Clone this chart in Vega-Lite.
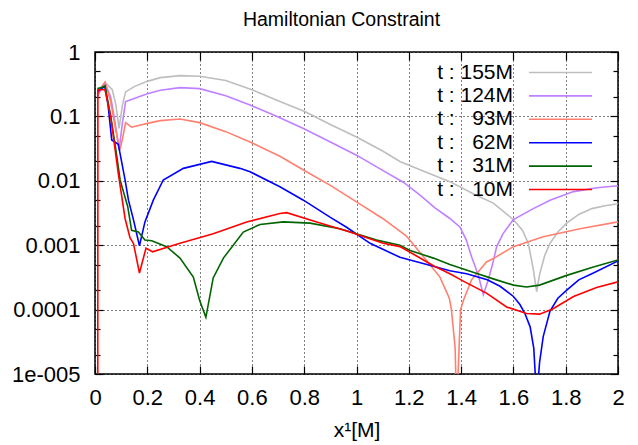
{
  "$schema": "https://vega.github.io/schema/vega-lite/v6.json",
  "width": 523,
  "height": 322,
  "autosize": {"type": "none"},
  "padding": {"left": 95, "top": 52, "right": 20, "bottom": 71},
  "background": "white",
  "title": {"text": "Hamiltonian Constraint", "fontSize": 19.5, "font": "Liberation Sans", "fontWeight": "normal", "color": "black", "dx": -15, "offset": 11},
  "datasets": {
    "curves": [
      {"s":"t : 155M","x":0.009,"y":0.22},{"s":"t : 155M","x":0.025,"y":0.29},{"s":"t : 155M","x":0.038,"y":0.34},{"s":"t : 155M","x":0.066,"y":0.26},{"s":"t : 155M","x":0.08,"y":0.15},{"s":"t : 155M","x":0.092,"y":0.065},{"s":"t : 155M","x":0.105,"y":0.15},{"s":"t : 155M","x":0.117,"y":0.24},{"s":"t : 155M","x":0.15,"y":0.29},{"s":"t : 155M","x":0.2,"y":0.35},{"s":"t : 155M","x":0.25,"y":0.4},{"s":"t : 155M","x":0.325,"y":0.43},{"s":"t : 155M","x":0.4,"y":0.42},{"s":"t : 155M","x":0.5,"y":0.36},{"s":"t : 155M","x":0.6,"y":0.26},{"s":"t : 155M","x":0.707,"y":0.17},{"s":"t : 155M","x":0.8,"y":0.12},{"s":"t : 155M","x":0.9,"y":0.075},{"s":"t : 155M","x":1.0,"y":0.048},{"s":"t : 155M","x":1.1,"y":0.029},{"s":"t : 155M","x":1.166,"y":0.02},{"s":"t : 155M","x":1.25,"y":0.0145},{"s":"t : 155M","x":1.357,"y":0.0097},{"s":"t : 155M","x":1.45,"y":0.0062},{"s":"t : 155M","x":1.523,"y":0.0045},{"s":"t : 155M","x":1.6,"y":0.0025},{"s":"t : 155M","x":1.635,"y":0.0017},{"s":"t : 155M","x":1.657,"y":0.00107},{"s":"t : 155M","x":1.675,"y":0.00045},{"s":"t : 155M","x":1.689,"y":0.00019},{"s":"t : 155M","x":1.7,"y":0.00035},{"s":"t : 155M","x":1.72,"y":0.0007},{"s":"t : 155M","x":1.74,"y":0.00107},{"s":"t : 155M","x":1.77,"y":0.0016},{"s":"t : 155M","x":1.804,"y":0.0022},{"s":"t : 155M","x":1.85,"y":0.003},{"s":"t : 155M","x":1.9,"y":0.0037},{"s":"t : 155M","x":1.95,"y":0.0041},{"s":"t : 155M","x":2.0,"y":0.0044},

      {"s":"t : 124M","x":0.009,"y":0.2},{"s":"t : 124M","x":0.025,"y":0.28},{"s":"t : 124M","x":0.038,"y":0.33},{"s":"t : 124M","x":0.06,"y":0.2},{"s":"t : 124M","x":0.075,"y":0.09},{"s":"t : 124M","x":0.092,"y":0.03},{"s":"t : 124M","x":0.105,"y":0.08},{"s":"t : 124M","x":0.117,"y":0.17},{"s":"t : 124M","x":0.15,"y":0.19},{"s":"t : 124M","x":0.2,"y":0.225},{"s":"t : 124M","x":0.25,"y":0.255},{"s":"t : 124M","x":0.325,"y":0.28},{"s":"t : 124M","x":0.4,"y":0.27},{"s":"t : 124M","x":0.5,"y":0.21},{"s":"t : 124M","x":0.593,"y":0.15},{"s":"t : 124M","x":0.707,"y":0.095},{"s":"t : 124M","x":0.797,"y":0.065},{"s":"t : 124M","x":0.9,"y":0.04},{"s":"t : 124M","x":1.0,"y":0.025},{"s":"t : 124M","x":1.1,"y":0.0145},{"s":"t : 124M","x":1.179,"y":0.0095},{"s":"t : 124M","x":1.243,"y":0.006},{"s":"t : 124M","x":1.3,"y":0.0038},{"s":"t : 124M","x":1.357,"y":0.0026},{"s":"t : 124M","x":1.396,"y":0.0019},{"s":"t : 124M","x":1.42,"y":0.0012},{"s":"t : 124M","x":1.44,"y":0.00066},{"s":"t : 124M","x":1.465,"y":0.00035},{"s":"t : 124M","x":1.485,"y":0.00017},{"s":"t : 124M","x":1.504,"y":0.00029},{"s":"t : 124M","x":1.52,"y":0.0005},{"s":"t : 124M","x":1.536,"y":0.00095},{"s":"t : 124M","x":1.56,"y":0.0015},{"s":"t : 124M","x":1.6,"y":0.0025},{"s":"t : 124M","x":1.676,"y":0.0037},{"s":"t : 124M","x":1.74,"y":0.005},{"s":"t : 124M","x":1.83,"y":0.0068},{"s":"t : 124M","x":1.92,"y":0.0078},{"s":"t : 124M","x":2.0,"y":0.0084},

      {"s":"t : \u200793M","x":0.009,"y":0.22},{"s":"t : \u200793M","x":0.025,"y":0.28},{"s":"t : \u200793M","x":0.038,"y":0.34},{"s":"t : \u200793M","x":0.06,"y":0.17},{"s":"t : \u200793M","x":0.08,"y":0.06},{"s":"t : \u200793M","x":0.095,"y":0.03},{"s":"t : \u200793M","x":0.105,"y":0.045},{"s":"t : \u200793M","x":0.117,"y":0.08},{"s":"t : \u200793M","x":0.14,"y":0.068},{"s":"t : \u200793M","x":0.2,"y":0.078},{"s":"t : \u200793M","x":0.25,"y":0.086},{"s":"t : \u200793M","x":0.325,"y":0.091},{"s":"t : \u200793M","x":0.4,"y":0.08},{"s":"t : \u200793M","x":0.5,"y":0.058},{"s":"t : \u200793M","x":0.593,"y":0.04},{"s":"t : \u200793M","x":0.707,"y":0.024},{"s":"t : \u200793M","x":0.797,"y":0.0147},{"s":"t : \u200793M","x":0.9,"y":0.0085},{"s":"t : \u200793M","x":1.0,"y":0.0047},{"s":"t : \u200793M","x":1.1,"y":0.0026},{"s":"t : \u200793M","x":1.19,"y":0.0014},{"s":"t : \u200793M","x":1.268,"y":0.00058},{"s":"t : \u200793M","x":1.319,"y":0.00032},{"s":"t : \u200793M","x":1.355,"y":0.00015},{"s":"t : \u200793M","x":1.363,"y":0.0001},{"s":"t : \u200793M","x":1.377,"y":0.000026},{"s":"t : \u200793M","x":1.383,"y":0.000003},{"s":"t : \u200793M","x":1.39,"y":0.000015},{"s":"t : \u200793M","x":1.398,"y":0.0001},{"s":"t : \u200793M","x":1.409,"y":0.00014},{"s":"t : \u200793M","x":1.44,"y":0.00029},{"s":"t : \u200793M","x":1.497,"y":0.00055},{"s":"t : \u200793M","x":1.523,"y":0.00062},{"s":"t : \u200793M","x":1.6,"y":0.00095},{"s":"t : \u200793M","x":1.714,"y":0.00135},{"s":"t : \u200793M","x":1.855,"y":0.0018},{"s":"t : \u200793M","x":2.0,"y":0.0023},

      {"s":"t : \u200762M","x":0.009,"y":0.24},{"s":"t : \u200762M","x":0.025,"y":0.27},{"s":"t : \u200762M","x":0.038,"y":0.29},{"s":"t : \u200762M","x":0.05,"y":0.15},{"s":"t : \u200762M","x":0.064,"y":0.043},{"s":"t : \u200762M","x":0.089,"y":0.037},{"s":"t : \u200762M","x":0.115,"y":0.0103},{"s":"t : \u200762M","x":0.128,"y":0.005},{"s":"t : \u200762M","x":0.147,"y":0.0025},{"s":"t : \u200762M","x":0.17,"y":0.00098},{"s":"t : \u200762M","x":0.191,"y":0.0023},{"s":"t : \u200762M","x":0.223,"y":0.005},{"s":"t : \u200762M","x":0.261,"y":0.0103},{"s":"t : \u200762M","x":0.338,"y":0.0156},{"s":"t : \u200762M","x":0.446,"y":0.02},{"s":"t : \u200762M","x":0.554,"y":0.0156},{"s":"t : \u200762M","x":0.593,"y":0.0138},{"s":"t : \u200762M","x":0.707,"y":0.0081},{"s":"t : \u200762M","x":0.797,"y":0.005},{"s":"t : \u200762M","x":0.9,"y":0.0027},{"s":"t : \u200762M","x":0.962,"y":0.0019},{"s":"t : \u200762M","x":1.052,"y":0.00107},{"s":"t : \u200762M","x":1.166,"y":0.00065},{"s":"t : \u200762M","x":1.294,"y":0.00047},{"s":"t : \u200762M","x":1.357,"y":0.0004},{"s":"t : \u200762M","x":1.421,"y":0.00036},{"s":"t : \u200762M","x":1.5,"y":0.00029},{"s":"t : \u200762M","x":1.549,"y":0.00023},{"s":"t : \u200762M","x":1.6,"y":0.00016},{"s":"t : \u200762M","x":1.625,"y":0.00012},{"s":"t : \u200762M","x":1.644,"y":0.000087},{"s":"t : \u200762M","x":1.664,"y":0.000054},{"s":"t : \u200762M","x":1.678,"y":0.000025},{"s":"t : \u200762M","x":1.689,"y":0.000004},{"s":"t : \u200762M","x":1.7,"y":0.000015},{"s":"t : \u200762M","x":1.714,"y":0.000038},{"s":"t : \u200762M","x":1.74,"y":0.000095},{"s":"t : \u200762M","x":1.77,"y":0.00015},{"s":"t : \u200762M","x":1.804,"y":0.0002},{"s":"t : \u200762M","x":1.85,"y":0.00029},{"s":"t : \u200762M","x":1.906,"y":0.00037},{"s":"t : \u200762M","x":2.0,"y":0.00057},

      {"s":"t : \u200731M","x":0.009,"y":0.27},{"s":"t : \u200731M","x":0.025,"y":0.28},{"s":"t : \u200731M","x":0.038,"y":0.3},{"s":"t : \u200731M","x":0.06,"y":0.1},{"s":"t : \u200731M","x":0.08,"y":0.03},{"s":"t : \u200731M","x":0.096,"y":0.0103},{"s":"t : \u200731M","x":0.11,"y":0.0065},{"s":"t : \u200731M","x":0.125,"y":0.004},{"s":"t : \u200731M","x":0.14,"y":0.0017},{"s":"t : \u200731M","x":0.166,"y":0.0016},{"s":"t : \u200731M","x":0.191,"y":0.0012},{"s":"t : \u200731M","x":0.217,"y":0.00117},{"s":"t : \u200731M","x":0.274,"y":0.00095},{"s":"t : \u200731M","x":0.325,"y":0.00063},{"s":"t : \u200731M","x":0.376,"y":0.00032},{"s":"t : \u200731M","x":0.4,"y":0.00014},{"s":"t : \u200731M","x":0.424,"y":0.000076},{"s":"t : \u200731M","x":0.452,"y":0.00031},{"s":"t : \u200731M","x":0.491,"y":0.00063},{"s":"t : \u200731M","x":0.567,"y":0.0016},{"s":"t : \u200731M","x":0.631,"y":0.0021},{"s":"t : \u200731M","x":0.72,"y":0.0023},{"s":"t : \u200731M","x":0.822,"y":0.0022},{"s":"t : \u200731M","x":0.937,"y":0.0018},{"s":"t : \u200731M","x":1.077,"y":0.0012},{"s":"t : \u200731M","x":1.166,"y":0.001},{"s":"t : \u200731M","x":1.205,"y":0.00083},{"s":"t : \u200731M","x":1.294,"y":0.00063},{"s":"t : \u200731M","x":1.357,"y":0.0005},{"s":"t : \u200731M","x":1.446,"y":0.00038},{"s":"t : \u200731M","x":1.523,"y":0.0003},{"s":"t : \u200731M","x":1.6,"y":0.00024},{"s":"t : \u200731M","x":1.65,"y":0.000224},{"s":"t : \u200731M","x":1.7,"y":0.00024},{"s":"t : \u200731M","x":1.804,"y":0.00034},{"s":"t : \u200731M","x":1.906,"y":0.00046},{"s":"t : \u200731M","x":2.0,"y":0.00059},

      {"s":"t : \u200710M","x":0.0105,"y":0.0000001},{"s":"t : \u200710M","x":0.011,"y":0.26},{"s":"t : \u200710M","x":0.038,"y":0.26},{"s":"t : \u200710M","x":0.06,"y":0.1},{"s":"t : \u200710M","x":0.089,"y":0.013},{"s":"t : \u200710M","x":0.115,"y":0.0026},{"s":"t : \u200710M","x":0.134,"y":0.0013},{"s":"t : \u200710M","x":0.147,"y":0.00107},{"s":"t : \u200710M","x":0.17,"y":0.00037},{"s":"t : \u200710M","x":0.195,"y":0.0009},{"s":"t : \u200710M","x":0.22,"y":0.00079},{"s":"t : \u200710M","x":0.325,"y":0.00107},{"s":"t : \u200710M","x":0.452,"y":0.0015},{"s":"t : \u200710M","x":0.58,"y":0.0023},{"s":"t : \u200710M","x":0.707,"y":0.0031},{"s":"t : \u200710M","x":0.733,"y":0.0032},{"s":"t : \u200710M","x":0.848,"y":0.0023},{"s":"t : \u200710M","x":0.975,"y":0.0016},{"s":"t : \u200710M","x":1.102,"y":0.00107},{"s":"t : \u200710M","x":1.166,"y":0.00095},{"s":"t : \u200710M","x":1.23,"y":0.00068},{"s":"t : \u200710M","x":1.294,"y":0.00048},{"s":"t : \u200710M","x":1.357,"y":0.00036},{"s":"t : \u200710M","x":1.421,"y":0.00026},{"s":"t : \u200710M","x":1.497,"y":0.00018},{"s":"t : \u200710M","x":1.574,"y":0.00011},{"s":"t : \u200710M","x":1.65,"y":0.000087},{"s":"t : \u200710M","x":1.7,"y":0.000085},{"s":"t : \u200710M","x":1.75,"y":0.000102},{"s":"t : \u200710M","x":1.83,"y":0.00016},{"s":"t : \u200710M","x":1.918,"y":0.00022},{"s":"t : \u200710M","x":2.0,"y":0.00027}
    ]
  },
  "data": {"name": "curves"},
  "layer": [
    {
      "mark": {"type": "line", "clip": true, "strokeWidth": 1.6},
      "encoding": {
        "x": {
          "field": "x", "type": "quantitative",
          "scale": {"domain": [0, 2], "nice": false, "zero": false},
          "axis": {
            "orient": "bottom",
            "values": [0, 0.2, 0.4, 0.6, 0.8, 1, 1.2, 1.4, 1.6, 1.8, 2],
            "format": "~g",
            "domain": false,
            "tickSize": -8, "tickColor": "black", "tickWidth": 1.2,
            "labelFont": "Liberation Sans", "labelFontSize": 22, "labelColor": "black",
            "labelPadding": 21, "labelFlush": false, "labelOverlap": false,
            "grid": true, "gridDash": [1, 3], "gridColor": "black", "gridOpacity": 1, "gridWidth": 1,
            "title": "x¹[M]", "titleFont": "Liberation Sans", "titleFontSize": 21, "titleFontWeight": "normal", "titleColor": "black", "titlePadding": 11
          }
        },
        "y": {
          "field": "y", "type": "quantitative",
          "scale": {"type": "log", "domain": [0.00001, 1], "nice": false},
          "axis": {
            "orient": "left",
            "values": [0.00001, 0.00002, 0.00005, 0.0001, 0.0002, 0.0005, 0.001, 0.002, 0.005, 0.01, 0.02, 0.05, 0.1, 0.2, 0.5, 1],
            "labelExpr": "datum.value < 0.000015 ? '1e-005' : (abs(log(datum.value)/LN10 - round(log(datum.value)/LN10)) < 0.001 ? format(datum.value, '~g') : '')",
            "domain": false,
            "tickSize": {"condition": {"test": "abs(log(datum.value)/LN10 - round(log(datum.value)/LN10)) < 0.001", "value": -8}, "value": -5},
            "tickColor": "black", "tickWidth": 1.2,
            "labelFont": "Liberation Sans", "labelFontSize": 22, "labelColor": "black",
            "labelPadding": 23, "labelFlush": false, "labelOverlap": false,
            "grid": true, "gridDash": [1, 3], "gridColor": "black", "gridWidth": 1,
            "gridOpacity": {"condition": {"test": "abs(log(datum.value)/LN10 - round(log(datum.value)/LN10)) < 0.001", "value": 1}, "value": 0},
            "title": null
          }
        },
        "color": {
          "field": "s", "type": "nominal",
          "scale": {
            "domain": ["t : 155M", "t : 124M", "t : \u200793M", "t : \u200762M", "t : \u200731M", "t : \u200710M"],
            "range": ["#bebebe", "#c080ff", "#ff8070", "#0000ff", "#006400", "#ff0000"]
          },
          "legend": {
            "orient": "none", "legendX": 455, "legendY": 10,
            "title": null, "padding": 0,
            "symbolType": "M-4,0H4", "symbolSize": 248, "symbolStrokeWidth": 1.6,
            "labelAlign": "right", "labelOffset": -58,
            "labelFont": "Liberation Sans", "labelFontSize": 21, "labelColor": "black",
            "rowPadding": 1.4
          }
        }
      }
    },
    {
      "mark": {"type": "point", "opacity": 0, "clip": true},
      "encoding": {
        "x": {
          "field": "x", "type": "quantitative",
          "axis": {
            "orient": "top",
            "values": [0, 0.2, 0.4, 0.6, 0.8, 1, 1.2, 1.4, 1.6, 1.8, 2],
            "domain": false, "labels": false, "grid": false, "title": null,
            "tickSize": -8, "tickColor": "black", "tickWidth": 1.2
          }
        },
        "y": {
          "field": "y", "type": "quantitative",
          "axis": {
            "orient": "right",
            "values": [0.00001, 0.00002, 0.00005, 0.0001, 0.0002, 0.0005, 0.001, 0.002, 0.005, 0.01, 0.02, 0.05, 0.1, 0.2, 0.5, 1],
            "domain": false, "labels": false, "grid": false, "title": null,
            "tickSize": {"condition": {"test": "abs(log(datum.value)/LN10 - round(log(datum.value)/LN10)) < 0.001", "value": -8}, "value": -5},
            "tickColor": "black", "tickWidth": 1.2
          }
        }
      }
    }
  ],
  "resolve": {"axis": {"x": "independent", "y": "independent"}},
  "config": {
    "view": {"stroke": "black", "strokeWidth": 1.5},
    "font": "Liberation Sans"
  }
}
